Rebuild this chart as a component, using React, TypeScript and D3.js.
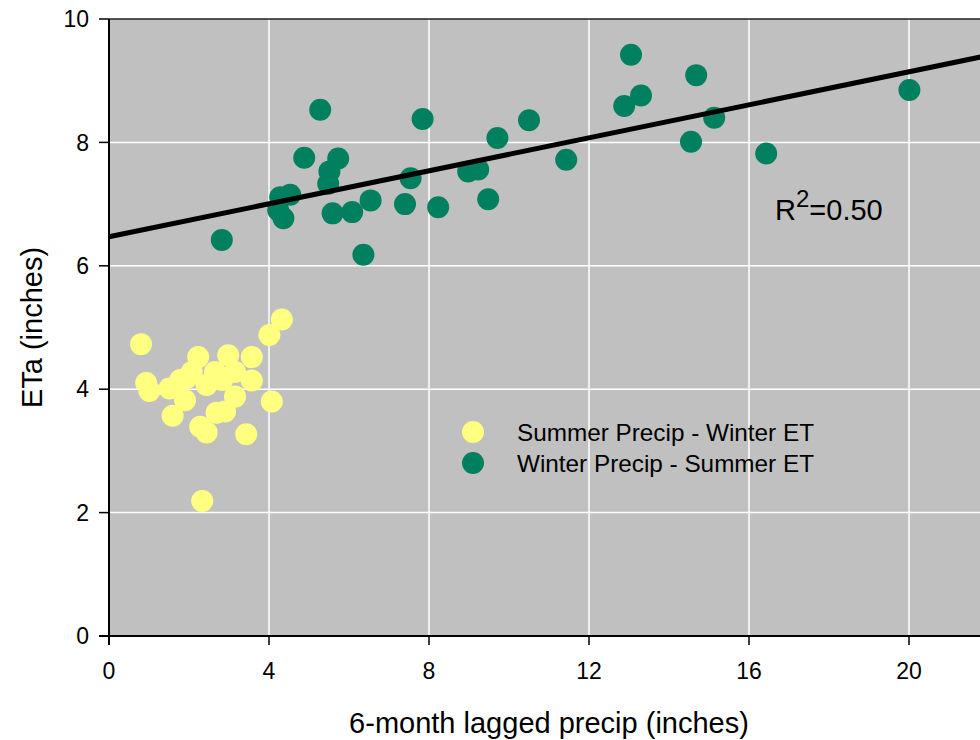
import React from "react";
import * as d3 from "d3";

const summerX = [0.8, 4.32, 4.01, 0.93, 1.01, 1.51, 1.59, 1.9, 1.78, 2.07, 2.23, 2.44, 2.65, 2.98, 3.15, 3.57, 3.57, 3.15, 2.9, 2.69, 2.28, 2.44, 3.43, 4.07, 2.33, 1.94, 2.83];
const summerY = [4.73, 5.13, 4.88, 4.1, 3.97, 4.01, 3.57, 3.82, 4.15, 4.28, 4.52, 4.07, 4.28, 4.55, 4.28, 4.52, 4.14, 3.88, 3.64, 3.62, 3.39, 3.3, 3.27, 3.8, 2.19, 4.18, 4.15];

const winterX = [2.82, 5.28, 4.88, 5.73, 5.51, 5.48, 4.53, 4.28, 4.23, 4.36, 5.59, 6.08, 6.54, 6.36, 7.84, 7.54, 7.4, 8.23, 8.98, 9.23, 9.71, 10.5, 9.48, 11.43, 13.05, 12.88, 13.3, 14.68, 14.55, 15.13, 16.43, 20.01];
const winterY = [6.42, 8.53, 7.75, 7.74, 7.53, 7.33, 7.15, 7.11, 6.9, 6.77, 6.85, 6.87, 7.06, 6.18, 8.38, 7.42, 7.0, 6.95, 7.53, 7.56, 8.07, 8.36, 7.08, 7.72, 9.42, 8.59, 8.76, 9.09, 8.01, 8.4, 7.82, 8.85];

const fitIntercept = 6.47;
const fitSlope = 0.1337;
const rSquared = "0.50";

const xTicks = [0, 4, 8, 12, 16, 20];
const yTicks = [0, 2, 4, 6, 8, 10];
const legendLabels = ["Summer Precip - Winter ET", "Winter Precip - Summer ET"];

const FONT = "'Liberation Sans', Arial, sans-serif";
const YELLOW = "#ffff80";
const GREEN = "#00805f";

export default function App() {
  const W = 980, H = 740;
  const left = 109, top = 19, bottom = 636;
  const x = d3.scaleLinear().domain([0, 22]).range([left, left + 880]);
  const y = d3.scaleLinear().domain([0, 10]).range([bottom, top]);
  const line = d3.line<number>().x((d) => x(d)).y((d) => y(fitIntercept + fitSlope * d));
  const r = 11;

  return (
    <svg width={W} height={H} style={{ position: "absolute", left: 0, top: 0, background: "#fff" }} fontFamily={FONT}>
      <rect x={x(0)} y={y(10)} width={x(22) - x(0)} height={y(0) - y(10)} fill="#c0c0c0" />
      {xTicks.filter((t) => t > 0).map((t) => (
        <line key={"gx" + t} x1={x(t)} x2={x(t)} y1={y(0)} y2={y(10)} stroke="#fff" strokeWidth={1.5} />
      ))}
      {yTicks.filter((t) => t > 0 && t < 10).map((t) => (
        <line key={"gy" + t} x1={x(0)} x2={x(22)} y1={y(t)} y2={y(t)} stroke="#fff" strokeWidth={1.5} />
      ))}
      <line x1={x(0)} x2={x(22)} y1={y(10)} y2={y(10)} stroke="#222" strokeWidth={1.5} />

      {summerX.map((d, i) => (
        <circle key={"s" + i} cx={x(d)} cy={y(summerY[i])} r={r} fill={YELLOW} />
      ))}
      {winterX.map((d, i) => (
        <circle key={"w" + i} cx={x(d)} cy={y(winterY[i])} r={r} fill={GREEN} />
      ))}

      <path d={line([0, 22]) || ""} stroke="#000" strokeWidth={5} fill="none" />

      <line x1={x(0)} x2={x(0)} y1={y(10)} y2={y(0) + 9} stroke="#000" strokeWidth={2} />
      <line x1={x(0) - 10} x2={x(22)} y1={y(0)} y2={y(0)} stroke="#000" strokeWidth={2} />
      {yTicks.map((t) => (
        <g key={"yt" + t}>
          <line x1={x(0) - 10} x2={x(0)} y1={y(t)} y2={y(t)} stroke="#000" strokeWidth={1.5} />
          <text x={x(0) - 20} y={y(t)} dy="0.36em" textAnchor="end" fontSize={23}>{t}</text>
        </g>
      ))}
      {xTicks.map((t) => (
        <g key={"xt" + t}>
          <line x1={x(t)} x2={x(t)} y1={y(0)} y2={y(0) + 9} stroke="#000" strokeWidth={1.5} />
          <text x={x(t)} y={679} textAnchor="middle" fontSize={23}>{t}</text>
        </g>
      ))}

      <text x={(x(0) + x(22)) / 2} y={733} textAnchor="middle" fontSize={29}>6-month lagged precip (inches)</text>
      <text transform={`translate(42,${(y(0) + y(10)) / 2}) rotate(-90)`} textAnchor="middle" fontSize={29}>ETa (inches)</text>

      <text x={775} y={220} fontSize={29}>
        R<tspan dy={-13} fontSize={24}>2</tspan><tspan dy={13}>={rSquared}</tspan>
      </text>

      {legendLabels.map((lab, i) => (
        <g key={lab}>
          <circle cx={473} cy={432 + i * 31} r={r} fill={i === 0 ? YELLOW : GREEN} />
          <text x={517} y={441 + i * 31} fontSize={24.3}>{lab}</text>
        </g>
      ))}
    </svg>
  );
}
